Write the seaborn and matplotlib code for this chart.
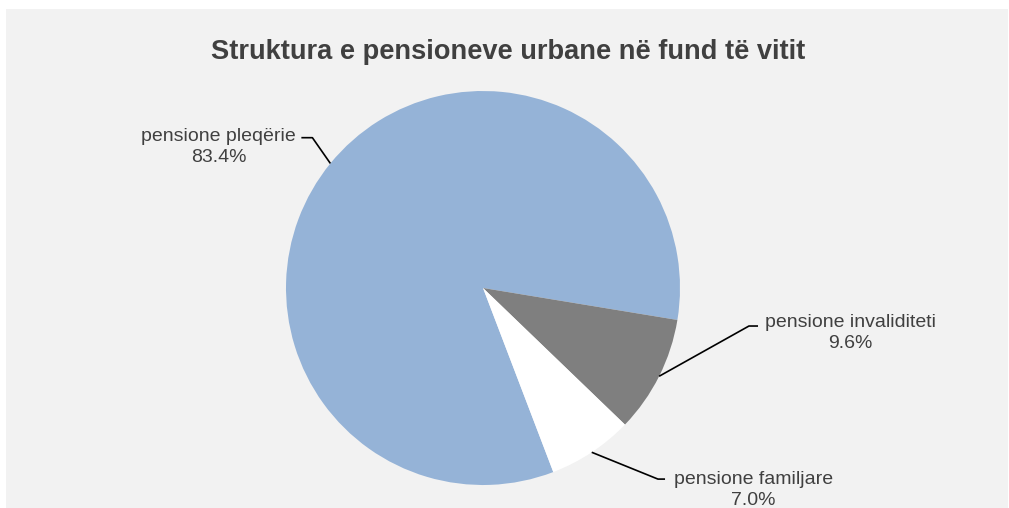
import numpy as np
import matplotlib
matplotlib.use("Agg")
import matplotlib.pyplot as plt
import seaborn as sns
from matplotlib.patches import Rectangle

# --- DATA ---
categories = ["pensione pleqërie", "pensione invaliditeti", "pensione familjare"]
shares = [83.4, 9.6, 7.0]
title = "Struktura e pensioneve urbane në fund të vitit"

# --- STYLE ---
sns.set_style("white")
plt.rcParams['font.family'] = ['Liberation Sans', 'DejaVu Sans']
colors = ["#95b3d7", "#7f7f7f", "#ffffff"]
text_color = "#404040"

fig = plt.figure(figsize=(10.09, 5.08), dpi=100)
fig.patches.append(Rectangle((6 / 1009, 0), 1002 / 1009, 1 - 9 / 508,
                             transform=fig.transFigure, facecolor="#f2f2f2",
                             edgecolor="none", zorder=-1))

# square axes, pie radius 197 px centred at (483, 288)
ax = fig.add_axes([(483 - 197) / 1009, (508 - 288 - 197) / 508, 394 / 1009, 394 / 508])
ax.set_zorder(1)
ax.set_facecolor("none")
wedges, _ = ax.pie(shares, colors=colors, startangle=-69.1, counterclock=False,
                   radius=1, wedgeprops=dict(linewidth=0))
ax.set_xlim(-1, 1)
ax.set_ylim(-1, 1)
ax.set_aspect("equal")
ax.axis("off")

# label layout: (elbow start, elbow end, text centre)
layout = [
    ((-0.866, 0.763), (-0.922, 0.763), (-1.342, 0.715)),
    ((1.350, -0.193), (1.396, -0.193), (1.863, -0.228)),
    ((0.888, -0.970), (0.924, -0.970), (1.371, -1.025)),
]
for w, cat, val, (e1, e2, tc) in zip(wedges, categories, shares, layout):
    ang = np.deg2rad((w.theta1 + w.theta2) / 2)
    px, py = np.cos(ang), np.sin(ang)
    ax.plot([px, e1[0], e2[0]], [py, e1[1], e2[1]], color="black", lw=1.2,
            clip_on=False, solid_capstyle="butt")
    ax.text(tc[0], tc[1], f"{cat}\n{val:.1f}%", ha="center", va="center",
            fontsize=14, color=text_color, linespacing=1.35, clip_on=False)

fig.text(508 / 1009, 1 - 52 / 508, title, ha="center", va="center",
         fontsize=19.6, fontweight="bold", color=text_color)

fig.savefig("out.png", dpi=100)
